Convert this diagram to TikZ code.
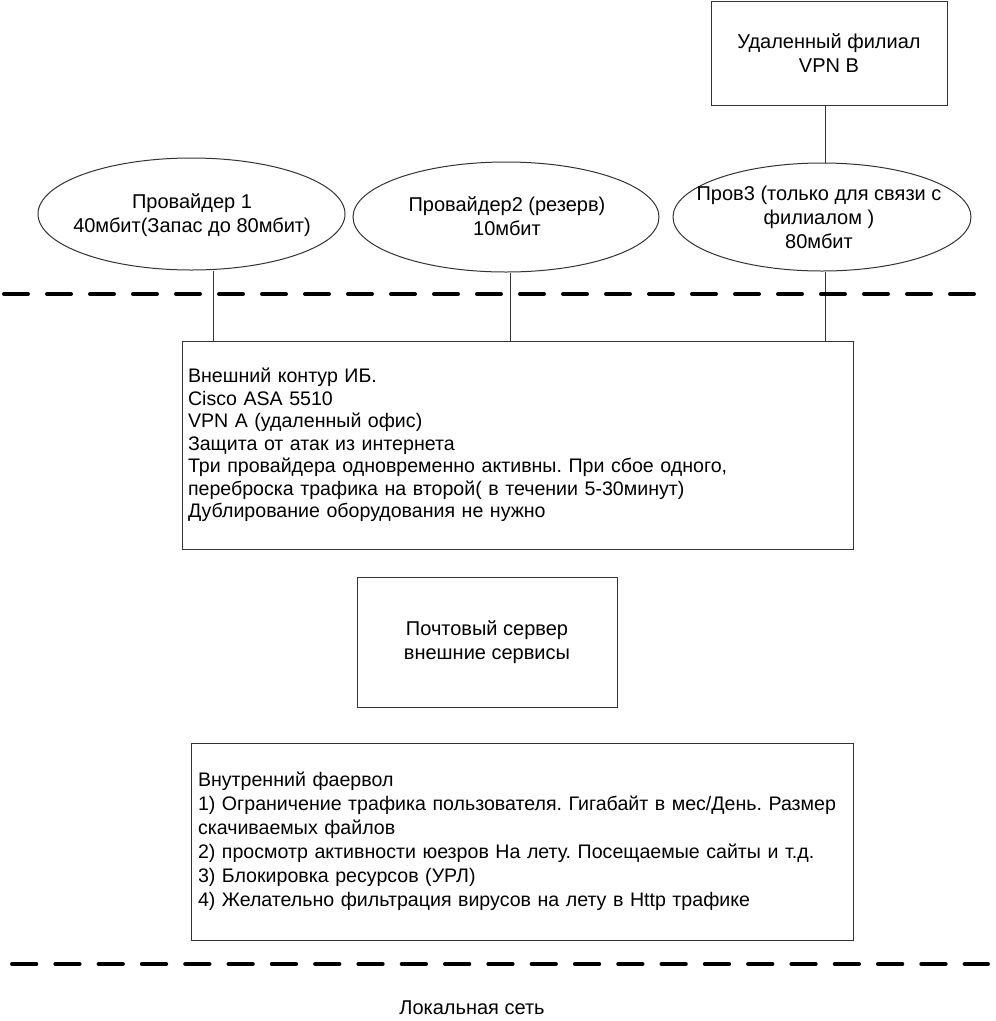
\documentclass[tikz,border=0pt]{standalone}
\usepackage{fontspec}
\setmainfont{Liberation Sans}
\usetikzlibrary{shapes.geometric}
\frenchspacing
\begin{document}
\begin{tikzpicture}[x=1pt,y=-1pt,
  txt/.style={font=\fontsize{20}{24}\selectfont, align=center, inner sep=0},
  box/.style={draw=black!80, line width=1pt, rectangle, inner sep=0},
  oval/.style={draw=black!80, line width=1pt, ellipse, inner sep=0},
  link/.style={draw=black!80, line width=1pt},
  sep/.style={line width=4pt, line cap=round}]
\useasboundingbox (0,0) rectangle (996,1021);
\fill[white] (0,0) rectangle (996,1021);

% remote branch
\node[box, txt, minimum width=236, minimum height=104] (vpnb) at (829,53) {Удаленный филиал\\VPN B};

% providers
\node[oval, minimum width=307, minimum height=112] (e1) at (191.5,214) {};
\node[txt] (e1t) at (192,215) {Провайдер 1\\40мбит(Запас до 80мбит)};
\node[oval, minimum width=306, minimum height=110] (e2) at (506,217) {};
\node[txt] (e2t) at (507,216) {Провайдер2 (резерв)\\10мбит};
\node[oval, minimum width=298, minimum height=108] (e3) at (822,217) {};
\node[txt] (e3t) at (819,217) {Пров3 (только для связи с\\филиалом )\\80мбит};

% outer firewall
\node[box, txt, align=left, font=\fontsize{19.6}{22.5}\selectfont, minimum width=671, minimum height=208, text width=659] (b1) at (517.5,445) {Внешний контур ИБ.\\Cisco ASA 5510\\VPN A (удаленный офис)\\Защита от атак из интернета\\Три провайдера одновременно активны. При сбое одного,\\переброска трафика на второй( в течении 5-30минут)\\Дублирование оборудования не нужно};

% mail server
\node[box, txt, minimum width=260, minimum height=130] (b2) at (487,642) {Почтовый сервер\\внешние сервисы};

% inner firewall
\node[box, txt, align=left, font=\fontsize{19.6}{24}\selectfont, minimum width=662, minimum height=197, text width=648] (b3) at (522,841.5) {Внутренний фаервол\\1) Ограничение трафика пользователя. Гигабайт в мес/День. Размер\\скачиваемых файлов\\2) просмотр активности юезров На лету. Посещаемые сайты и т.д.\\3) Блокировка ресурсов (УРЛ)\\4) Желательно фильтрация вирусов на лету в Http трафике};

\node[txt] (lan) at (472,1008) {Локальная сеть};

% connectors
\coordinate (x1) at (213,0);
\coordinate (x2) at (510,0);
\coordinate (x3) at (825,0);
\draw[link] (vpnb.south -| x3) -- (e3.north -| x3);
\draw[link] (e1.south -| x1) -- (b1.north -| x1);
\draw[link] (e2.south -| x2) -- (b1.north -| x2);
\draw[link] (e3.south -| x3) -- (b1.north -| x3);

% separators
\coordinate (s1a) at (4,294);
\coordinate (s1b) at (978,294);
\coordinate (s2a) at (12,964);
\coordinate (s2b) at (988,964);
\draw[sep, dash pattern=on 24pt off 19pt] (s1a) -- (s1b);
\draw[sep, dash pattern=on 24.3pt off 19pt] (s2a) -- (s2b);
\end{tikzpicture}
\end{document}
